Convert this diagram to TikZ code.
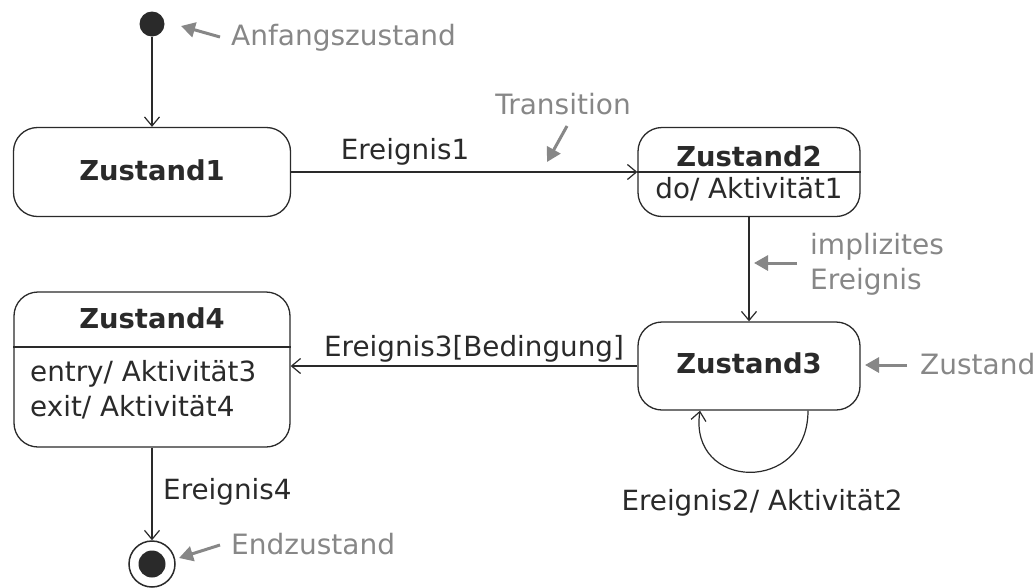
\documentclass[tikz,border=0pt]{standalone}
\usepackage{fontspec}
\setmainfont{DejaVu Sans}
\usetikzlibrary{arrows.meta}
\definecolor{ink}{HTML}{2A2A2A}
\definecolor{note}{HTML}{878787}
\begin{document}
\begin{tikzpicture}[x=1pt,y=-1pt,
  state/.style={draw=ink, line width=1.3pt, rounded corners=24pt, inner sep=0pt},
  trans/.style={draw=ink, line width=1.2pt, -{Straight Barb[length=9pt,width=15pt,line width=1.2pt]}},
  notearrow/.style={draw=note, line width=3pt, -{Triangle[length=14pt,width=15pt]}},
  lbl/.style={text=ink, font=\fontsize{27.8}{33}\selectfont, inner sep=0pt},
  nlbl/.style={text=note, font=\fontsize{28}{33}\selectfont, inner sep=0pt},
  ttl/.style={text=ink, font=\bfseries\fontsize{27.4}{33}\selectfont, inner sep=0pt}]
\useasboundingbox (0,0) rectangle (1035,587);

% initial state
\node[circle, fill=ink, minimum size=25pt, inner sep=0pt] (init) at (152,24) {};
\coordinate (initA) at (220,37);
\coordinate (initB) at (181,26);
\node[nlbl, anchor=west] (initT) at (231,38) {Anfangszustand};

% Zustand1
\node[state, minimum width=277pt, minimum height=89pt] (z1) at (152,172) {};
\node[ttl] (z1t) at (152,170) {Zustand1};

% Zustand2
\node[state, minimum width=222pt, minimum height=89pt] (z2) at (749,172) {};
\draw[draw=ink, line width=1.3pt] (z2.west |- 0,172) coordinate (z2l) -- (z2.east |- 0,172) coordinate (z2r);
\node[ttl] (z2t) at (749,156) {Zustand2};
\node[lbl] (z2b) at (749,189) {do/ Aktivität1};

% Zustand3
\node[state, minimum width=222pt, minimum height=88pt] (z3) at (749,366) {};
\node[ttl] (z3t) at (749,363) {Zustand3};

% Zustand4
\node[state, minimum width=276pt, minimum height=155pt] (z4) at (152,369.5) {};
\draw[draw=ink, line width=1.3pt] (z4.west |- 0,347) coordinate (z4l) -- (z4.east |- 0,347) coordinate (z4r);
\node[ttl] (z4t) at (152,318) {Zustand4};
\node[lbl, anchor=west] (z4e) at (30,374) {entry/ Aktivität3};
\node[lbl, anchor=west] (z4x) at (30,407) {exit/ Aktivität4};

% final state
\node[circle, draw=ink, line width=1.5pt, fill=white, minimum size=46pt, inner sep=0pt] (fin) at (152,564) {};
\node[circle, fill=ink, minimum size=27pt, inner sep=0pt] (finIn) at (fin) {};

% transitions
\draw[trans] (init) -- (z1);
\draw[trans] (z1.east) -- (z2.west);
\node[lbl] (e1) at (405,152) {Ereignis1};
\draw[trans] (z2.south) -- (z3.north);
\draw[trans] (z3.west) -- (z3.west -| z4.east);
\node[lbl] (e3) at (474,349) {Ereignis3[Bedingung]};
\draw[trans] ([xshift=59pt]z3.south) .. controls +(0,84) and +(-12,80) .. ([xshift=-49pt]z3.south);
\node[lbl] (e2) at (762,503) {Ereignis2/ Aktivität2};
\draw[trans] (z4.south) -- (fin.north);
\node[lbl, anchor=west] (e4) at (163,492) {Ereignis4};

% annotations
\draw[notearrow] (initA) -- (initB);
\node[nlbl] (trT) at (563,104) {Transition};
\coordinate (trA) at (567,126);
\coordinate (trB) at (547,162);
\draw[notearrow] (trA) -- (trB);
\node[nlbl, anchor=west] (impT1) at (810,247) {implizites};
\node[nlbl, anchor=west] (impT2) at (810,282) {Ereignis};
\coordinate (impA) at (797,263);
\coordinate (impB) at (754,263);
\draw[notearrow] (impA) -- (impB);
\node[nlbl, anchor=west] (zT) at (920,364) {Zustand};
\coordinate (zA) at (907,365);
\coordinate (zB) at (865,365);
\draw[notearrow] (zA) -- (zB);
\node[nlbl, anchor=west] (endT) at (231,544) {Endzustand};
\coordinate (endA) at (220,545);
\coordinate (endB) at (179,558);
\draw[notearrow] (endA) -- (endB);
\end{tikzpicture}
\end{document}
